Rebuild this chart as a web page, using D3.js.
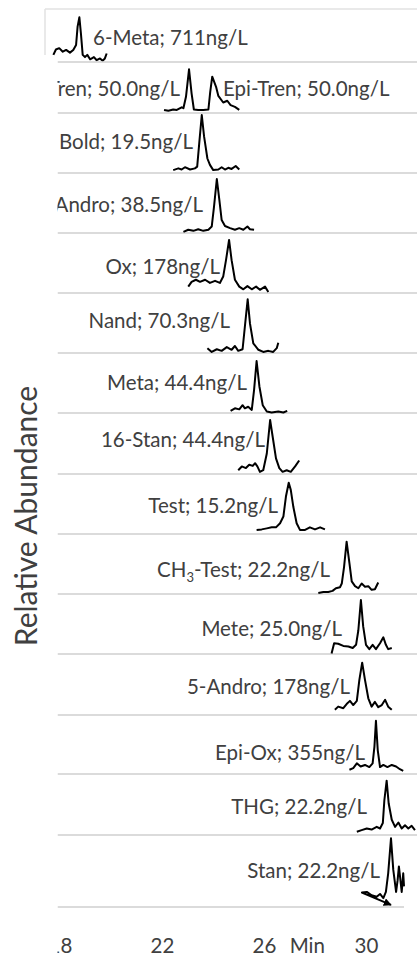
<!DOCTYPE html>
<html>
<head>
<meta charset="utf-8">
<script src="https://cdn.jsdelivr.net/npm/d3@7"></script>
<style>
  body { margin: 0; background: #fff; }
  svg { display: block; font-family: Lato, sans-serif; }
</style>
</head>
<body>
<div id="chart"></div>
<script>
// compounds and their spiked concentrations (ng/L)
const compounds = ["6-Meta", "Tren", "Epi-Tren", "Bold", "Andro", "Ox", "Nand", "Meta",
  "16-Stan", "Test", "CH3-Test", "Mete", "5-Andro", "Epi-Ox", "THG", "Stan"];
const concentrations = ["711", "50.0", "50.0", "19.5", "38.5", "178", "70.3", "44.4",
  "44.4", "15.2", "22.2", "25.0", "178", "355", "22.2", "22.2"];
// which chromatogram row each compound sits in (Tren / Epi-Tren share one)
const compoundRow = [0, 1, 1, 2, 3, 4, 5, 6, 7, 8, 9, 10, 11, 12, 13, 14];
const tickLabels = [18, 22, 26, 30];

// traces: [retention time (min), relative abundance (%)]
const trace6Meta = [[17.74,16],[17.84,28],[17.97,31],[18.11,23],[18.24,27],[18.39,21],[18.52,27],[18.63,38],[18.69,79],[18.76,100],[18.82,64],[18.89,16],[18.98,11],[19.07,16],[19.18,6],[19.33,11],[19.44,4],[19.57,8],[19.67,3],[19.76,8],[19.83,19]];
const traceTren = [[22.08,7],[22.25,5],[22.44,8],[22.58,7],[22.77,13],[22.84,11],[22.94,37],[23.06,100],[23.16,45],[23.25,8],[23.42,7],[23.62,7],[23.82,8],[23.89,48],[23.97,83],[24.12,60],[24.21,39],[24.40,24],[24.56,28],[24.69,18],[24.86,14],[25.03,7]];
const traceBold = [[22.44,5],[22.64,8],[22.77,6],[22.90,10],[23.10,6],[23.29,8],[23.38,11],[23.46,51],[23.56,100],[23.65,63],[23.78,25],[23.88,14],[24.01,5],[24.21,6],[24.34,10],[24.47,6],[24.60,9],[24.73,7],[24.89,12],[25.03,6]];
const traceAndro = [[22.84,2],[23.03,6],[23.23,4],[23.42,7],[23.62,4],[23.82,6],[23.95,12],[24.04,49],[24.15,100],[24.25,61],[24.34,24],[24.47,13],[24.67,9],[24.86,6],[25.03,9],[25.19,6],[25.35,12],[25.45,7],[25.61,6]];
const traceOx = [[23.03,12],[23.16,21],[23.33,25],[23.49,21],[23.69,25],[23.88,19],[24.08,23],[24.27,19],[24.40,31],[24.51,62],[24.63,100],[24.73,62],[24.86,25],[25.03,12],[25.19,7],[25.35,13],[25.52,7],[25.69,12],[25.84,6],[26.04,12],[26.17,2]];
const traceNand = [[23.78,9],[23.95,2],[24.15,7],[24.34,4],[24.54,11],[24.73,6],[24.86,13],[24.99,4],[25.16,7],[25.25,49],[25.36,100],[25.45,55],[25.58,18],[25.78,6],[25.97,2],[26.17,4],[26.36,2],[26.50,9],[26.56,19]];
const traceMeta = [[24.69,4],[24.86,9],[25.03,7],[25.16,15],[25.25,9],[25.38,12],[25.52,6],[25.61,44],[25.71,100],[25.82,51],[25.95,15],[26.11,3],[26.30,1],[26.56,3],[26.76,1],[26.91,4]];
const trace16Stan = [[24.99,7],[25.13,14],[25.29,11],[25.42,17],[25.56,15],[25.65,20],[25.74,14],[25.84,4],[25.97,7],[26.11,38],[26.24,100],[26.34,69],[26.47,29],[26.60,11],[26.73,4],[26.89,7],[27.05,4],[27.22,14],[27.38,25]];
const traceTest = [[25.71,8],[25.91,9],[26.11,11],[26.30,13],[26.47,13],[26.63,21],[26.76,34],[26.86,73],[26.97,100],[27.05,86],[27.15,53],[27.28,21],[27.41,8],[27.61,8],[27.80,13],[28.00,9],[28.20,13],[28.39,9]];
const traceCH3Test = [[28.13,2],[28.33,4],[28.52,4],[28.69,6],[28.82,11],[28.98,13],[29.05,20],[29.14,52],[29.24,100],[29.35,59],[29.44,24],[29.57,15],[29.70,11],[29.83,20],[29.96,14],[30.09,15],[30.22,8],[30.35,9],[30.48,22]];
const traceMete = [[28.65,1],[28.75,20],[28.91,19],[29.11,15],[29.31,14],[29.48,11],[29.61,17],[29.70,44],[29.80,100],[29.89,51],[30.00,17],[30.13,9],[30.26,17],[30.39,9],[30.55,20],[30.68,31],[30.78,17],[30.87,9],[31.01,11]];
const trace5Andro = [[28.78,10],[28.91,16],[29.11,13],[29.24,21],[29.37,27],[29.50,19],[29.64,27],[29.74,67],[29.85,100],[29.96,67],[30.09,32],[30.22,16],[30.35,25],[30.48,15],[30.62,19],[30.75,29],[30.87,16],[31.01,10]];
const traceEpiOx = [[29.35,8],[29.50,11],[29.64,20],[29.79,14],[29.96,17],[30.13,13],[30.26,20],[30.33,51],[30.39,100],[30.46,45],[30.55,13],[30.68,17],[30.84,13],[31.01,17],[31.18,14],[31.33,9],[31.46,6]];
const traceTHG = [[29.64,6],[29.83,9],[30.03,12],[30.22,10],[30.42,15],[30.55,12],[30.66,22],[30.72,64],[30.81,100],[30.89,58],[31.01,28],[31.14,15],[31.27,23],[31.40,12],[31.53,18],[31.66,12],[31.79,17],[31.92,9]];
const traceStan = [[30.98,3],[29.84,21],[30.03,22],[30.22,17],[30.42,15],[30.55,19],[30.68,13],[30.78,22],[30.87,49],[30.98,100],[31.07,54],[31.18,22],[31.24,39],[31.29,59],[31.35,39],[31.40,22],[31.44,39],[31.46,49],[31.49,30]];

const traces = [trace6Meta, traceTren, traceBold, traceAndro, traceOx, traceNand, traceMeta,
  trace16Stan, traceTest, traceCH3Test, traceMete, trace5Andro, traceEpiOx, traceTHG, traceStan];

// layout (pixels)
const W = 417, H = 961;
const rowBottom = [62, 113, 173, 233, 293, 353, 413, 474, 534, 594, 654, 715, 774, 835, 907];
const rowPeak = [44.7, 43.7, 58, 54, 53, 53.7, 52, 54, 51.3, 52.3, 54, 52.3, 53.3, 54.3, 68.7];
// label anchor x, anchor side, text baseline y
const labelPos = [
  [93, "start", 45], [180, "end", 96], [223, "start", 96], [193, "end", 149],
  [203, "end", 212], [220, "end", 274], [230, "end", 328], [247, "end", 390],
  [265, "end", 447], [278, "end", 513], [330, "end", 577], [342, "end", 636],
  [350, "end", 694], [365, "end", 760], [367, "end", 814], [380, "end", 878]
];
const cutX = 57.5;
const textColor = "#404040";

const svg = d3.select("#chart")
  .append("svg")
    .attr("width", W)
    .attr("height", H);

const defs = svg.append("defs");
defs.append("clipPath")
    .attr("id", "cut")
  .append("rect")
    .attr("x", cutX).attr("y", 0)
    .attr("width", W).attr("height", H);

defs.append("marker")
    .attr("id", "arrow")
    .attr("viewBox", "0 0 10 10")
    .attr("refX", 9).attr("refY", 5)
    .attr("markerWidth", 4).attr("markerHeight", 4)
    .attr("orient", "auto-start-reverse")
  .append("path")
    .attr("d", "M0,0L10,5L0,10Z")
    .attr("fill", "#000");

const x = d3.scaleLinear()
    .domain([18, 32])
    .range([60, W]);

const y = rowBottom.map((b, i) => d3.scaleLinear()
    .domain([0, 100])
    .range([b, b - rowPeak[i]]));

// first row is a framed inset, the rest are cut at the left edge
const inset = svg.append("g");
const body = svg.append("g").attr("clip-path", "url(#cut)");

inset.append("line")
    .attr("x1", 45).attr("x2", W)
    .attr("y1", 9).attr("y2", 9)
    .attr("stroke", "#e2e2e2").attr("stroke-width", 1.5);
inset.append("line")
    .attr("x1", 45).attr("x2", 45)
    .attr("y1", 9).attr("y2", 55)
    .attr("stroke", "#e2e2e2").attr("stroke-width", 1.5);

// baselines
body.selectAll(".base")
  .data(rowBottom)
  .enter()
  .append("line")
    .attr("class", "base")
    .attr("x1", cutX)
    .attr("x2", (d, i) => i === rowBottom.length - 1 ? 404 : W)
    .attr("y1", d => d).attr("y2", d => d)
    .attr("stroke", "#cfcfcf")
    .attr("stroke-width", 1.5);

// traces
traces.forEach((tr, i) => {
  const line = d3.line()
      .x(d => x(d[0]))
      .y(d => y[i](d[1]));
  const p = (i === 0 ? inset : body).append("path")
      .datum(tr)
      .attr("d", line)
      .attr("fill", "none")
      .attr("stroke", "#000")
      .attr("stroke-width", 2)
      .attr("stroke-linejoin", "round");
  if (i === traces.length - 1) p.attr("marker-start", "url(#arrow)");
});

// compound labels
compounds.forEach((name, k) => {
  const [lx, anchor, ly] = labelPos[k];
  const t = (compoundRow[k] === 0 ? inset : body).append("text")
      .attr("x", lx)
      .attr("y", ly)
      .attr("text-anchor", anchor)
      .attr("fill", textColor)
      .style("font-size", "20.5px");
  if (name === "CH3-Test") {
    t.append("tspan").text("CH");
    t.append("tspan").text("3").attr("dy", 5).style("font-size", "13px");
    t.append("tspan").text("-Test; " + concentrations[k] + "ng/L").attr("dy", -5);
  } else {
    t.text(name + "; " + concentrations[k] + "ng/L");
  }
});

// time axis
const xAxis = body.append("g")
    .attr("transform", "translate(0,953)")
    .call(d3.axisBottom(x).tickValues(tickLabels).tickSize(0).tickFormat(d3.format("d")));
xAxis.select(".domain").remove();
xAxis.selectAll("text")
    .attr("y", 0)
    .attr("dy", null)
    .attr("fill", textColor)
    .style("font-family", "Lato, sans-serif")
    .style("font-size", "20.5px");

body.append("text")
    .attr("x", x(27.7))
    .attr("y", 953)
    .attr("text-anchor", "middle")
    .attr("fill", textColor)
    .style("font-size", "20.5px")
    .text("Min");

svg.append("text")
    .attr("transform", "translate(37,516) rotate(-90)")
    .attr("text-anchor", "middle")
    .attr("fill", textColor)
    .style("font-size", "30px")
    .text("Relative Abundance");
</script>
</body>
</html>
